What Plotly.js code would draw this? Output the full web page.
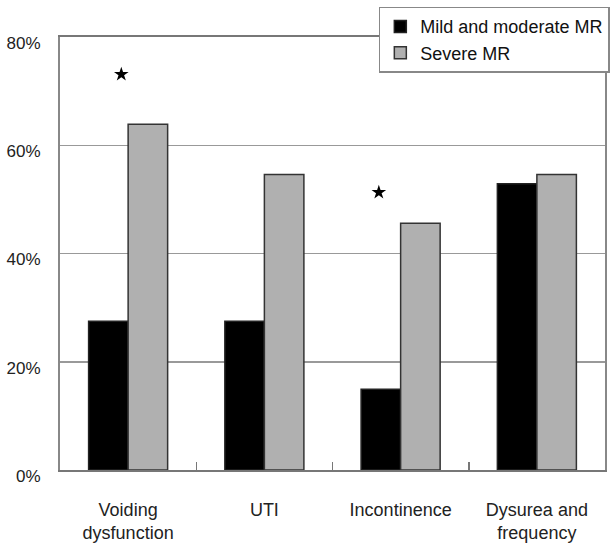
<!DOCTYPE html>
<html>
<head>
<meta charset="utf-8">
<script src="https://cdn.plot.ly/plotly-3.0.1.min.js"></script>
<style>
html,body{margin:0;padding:0;background:#fff;}
#chart{width:614px;height:548px;}
</style>
</head>
<body>
<div id="chart"></div>
<script>
var categories = ["Voiding<br>dysfunction", "UTI", "Incontinence", "Dysurea and<br>frequency"];
var catIndex = [0, 1, 2, 3];
var mildModerate = [0.275, 0.275, 0.149, 0.529];
var severe = [0.639, 0.546, 0.456, 0.546];
var sigX = [-0.05, 1.84];
var sigY = [0.731, 0.513];
var yTicks = [0, 0.2, 0.4, 0.6, 0.8];

var FONT = "Liberation Sans, Arial, sans-serif";

var traces = [
  {
    type: "bar", name: "Mild and moderate MR", x: catIndex, y: mildModerate,
    marker: {color: "#000000", line: {color: "#222222", width: 1.5}},
    hoverinfo: "skip"
  },
  {
    type: "bar", name: "Severe MR", x: catIndex, y: severe,
    marker: {color: "#b0b0b0", line: {color: "#333333", width: 1.5}},
    hoverinfo: "skip"
  },
  {
    type: "scatter", mode: "markers", x: sigX, y: sigY, showlegend: false,
    marker: {symbol: "star", size: 11, color: "#000000"},
    hoverinfo: "skip"
  }
];

var layout = {
  width: 614, height: 548,
  margin: {l: 60, r: 4, t: 37, b: 78},
  paper_bgcolor: "#ffffff", plot_bgcolor: "#ffffff",
  barmode: "group", bargap: 0.42, bargroupgap: 0,
  font: {family: FONT, size: 17, color: "#222222"},
  showlegend: true,
  legend: {
    x: 0.585, y: 1.07, xanchor: "left", yanchor: "top",
    bgcolor: "#ffffff", bordercolor: "#888888", borderwidth: 1.5,
    font: {family: FONT, size: 18, color: "#111111"},
    tracegroupgap: 0
  },
  xaxis: {
    range: [-0.5, 3.5], tickmode: "array", tickvals: catIndex, ticktext: categories,
    ticks: "", showgrid: false, zeroline: false,
    showline: true, linecolor: "#777777", linewidth: 2, mirror: true,
    tickfont: {family: FONT, size: 18, color: "#222222"},
    ticklabelstandoff: 22,
    minor: {tickmode: "array", tickvals: [0.5, 1.5, 2.5], ticks: "inside", ticklen: 8, tickcolor: "#777777", tickwidth: 1.5, showgrid: false}
  },
  yaxis: {
    range: [0, 0.8], tickmode: "array", tickvals: yTicks, tickformat: ".0%",
    ticks: "", showgrid: true, gridcolor: "#999999", gridwidth: 1.5, zeroline: false,
    showline: true, linecolor: "#888888", linewidth: 2, mirror: true,
    tickfont: {family: FONT, size: 17, color: "#222222"},
    ticklabelstandoff: 14, ticklabelshift: 6
  }
};

Plotly.newPlot("chart", traces, layout, {displayModeBar: false, staticPlot: true});
</script>
</body>
</html>
